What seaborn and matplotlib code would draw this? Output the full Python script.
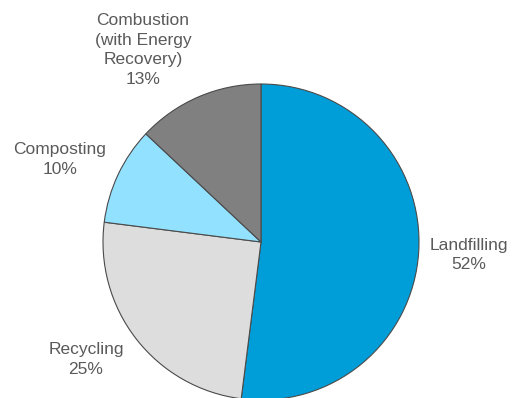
import matplotlib
matplotlib.use("Agg")
import matplotlib.pyplot as plt
import seaborn as sns

# Waste management shares (percent)
categories = ["Landfilling", "Recycling", "Composting", "Combustion\n(with Energy\nRecovery)"]
shares = [52, 25, 10, 13]
colors = ["#009ED9", "#DDDDDD", "#92E1FF", "#808080"]

# label anchor points (data units, pie radius = 1)
label_xy = [(1.316, -0.082), (-1.108, -0.744), (-1.272, 0.522), (-0.747, 1.215)]

sns.set_theme(style="white")
plt.rcParams["font.family"] = ["Liberation Sans", "DejaVu Sans"]

fig = plt.figure(figsize=(5.16, 3.98), dpi=100)
ax = fig.add_axes([0, 0, 1, 1])

wedges, _ = ax.pie(
    shares,
    colors=colors,
    startangle=90,
    counterclock=False,
    radius=1.0,
    wedgeprops=dict(edgecolor="#4a4a4a", linewidth=0.8),
)

for name, val, (x, y) in zip(categories, shares, label_xy):
    ax.text(x, y, f"{name}\n{val}%", ha="center", va="center",
            fontsize=12.5, color="#5a5a5a", linespacing=1.4)

ax.set_aspect("auto")
ax.set_xlim(-261 / 158, 255 / 158)
ax.set_ylim(-156 / 158, 242 / 158)
ax.axis("off")

fig.savefig("out.png", dpi=100)
